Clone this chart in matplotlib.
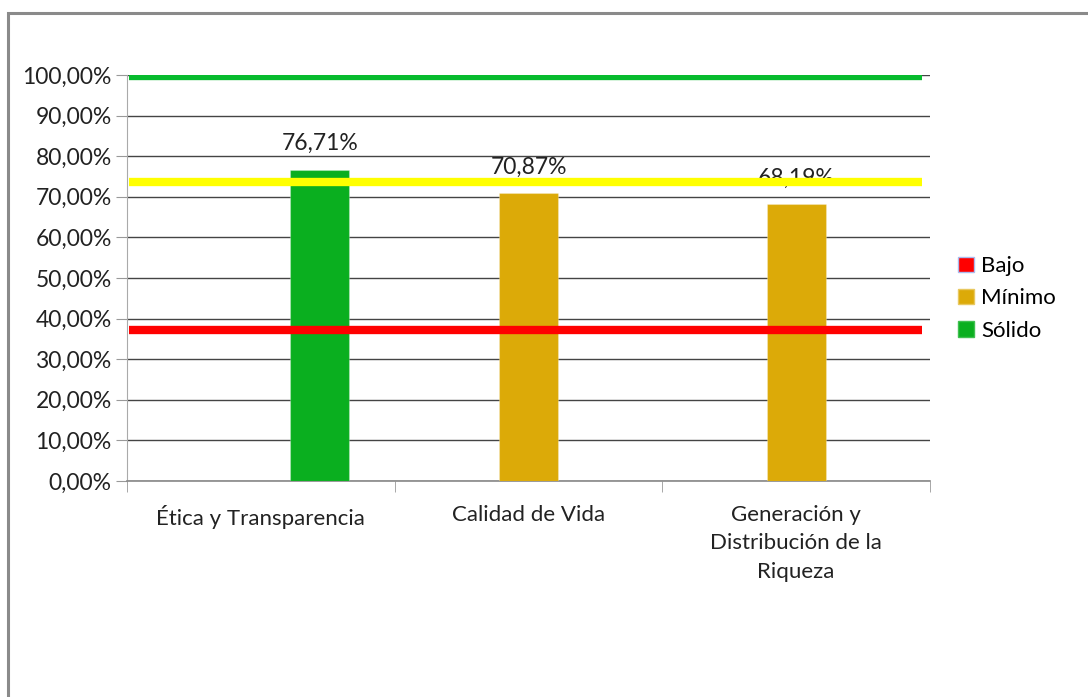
import numpy as np
import matplotlib.pyplot as plt
from matplotlib.patches import Rectangle, Patch

categorias = ["Ética y Transparencia", "Calidad de Vida",
              "Generación y\nDistribución de la\nRiqueza"]
series = ["Bajo", "Mínimo", "Sólido"]
bajo = [0.0, 0.0, 0.0]
minimo = [np.nan, 0.7087, 0.6819]
solido = [0.7671, np.nan, np.nan]
umbral_bajo = 0.372
umbral_minimo = 0.736
umbral_solido = 0.998

c_bajo = "#ff0000"
c_minimo = "#dcaa08"
c_solido = "#0aaf1f"

plt.rcParams["font.family"] = ["Lato", "DejaVu Sans"]

fig = plt.figure(figsize=(10.88, 6.97), dpi=100)
ax = fig.add_axes([127 / 1088, 1 - 481 / 697, 803 / 1088, 406 / 697])

# marco exterior
fig.patches.append(Rectangle((8 / 1088, -0.05), 1.1, 1 - 13 / 697 + 0.05,
                             transform=fig.transFigure, fill=False,
                             edgecolor="#8a8a8a", linewidth=2.2))

x = np.arange(len(categorias))
w = 0.22
for vals, off, col in [(bajo, -w, c_bajo), (minimo, 0, c_minimo), (solido, w, c_solido)]:
    v = np.array(vals)
    ax.bar(x + off, np.nan_to_num(v), w, color=col, zorder=3,
           edgecolor="#ffffff40", linewidth=0.8)
    for xi, vi in zip(x + off, v):
        if not np.isnan(vi) and vi > 0:
            ax.annotate(f"{vi * 100:.2f}%".replace(".", ","), (xi, vi),
                        xytext=(0, 11), textcoords="offset points",
                        ha="center", va="bottom", fontsize=16.5, color="#222222",
                        zorder=4)

for y, col in [(umbral_solido, "#07bb2e"), (umbral_minimo, "#ffff00"), (umbral_bajo, c_bajo)]:
    ax.axhline(y, xmin=0.003, xmax=0.99, color=col, linewidth=6, zorder=5,
               solid_capstyle="butt")

ax.set_xlim(-0.5, 2.5)
ax.set_ylim(0, 1)
ax.set_yticks(np.arange(0, 1.01, 0.1))
ax.set_yticklabels([f"{v:.2f}%".replace(".", ",") for v in np.arange(0, 101, 10)],
                   fontsize=16.5, color="#222222")
ax.yaxis.grid(True, color="#444444", linewidth=1.0, zorder=0)
ax.set_axisbelow(True)

ax.set_xticks(x)
ax.set_xticklabels(categorias, fontsize=16, color="#222222", linespacing=1.55)
ax.set_xticks(np.arange(-0.5, 2.6, 1), minor=True)
ax.tick_params(axis="x", which="major", length=0, pad=17)
ax.tick_params(axis="x", which="minor", length=8, color="#999999")
ax.tick_params(axis="y", length=8, color="#999999", pad=3)

for s in ["top", "right"]:
    ax.spines[s].set_visible(False)
ax.spines["left"].set_color("#aaaaaa")
ax.spines["bottom"].set_color("#888888")
ax.spines["bottom"].set_linewidth(1.2)

handles = [Patch(facecolor=c_bajo, edgecolor="#aabbee"),
           Patch(facecolor=c_minimo, edgecolor="#e8c860"),
           Patch(facecolor=c_solido, edgecolor="#40c050")]
ax.legend(handles, series, loc="center left", bbox_to_anchor=(1.01, 0.45),
          frameon=False, fontsize=16, handlelength=0.7, handleheight=0.7,
          handletextpad=0.35, labelspacing=0.55)

fig.savefig("out.png", dpi=100)
